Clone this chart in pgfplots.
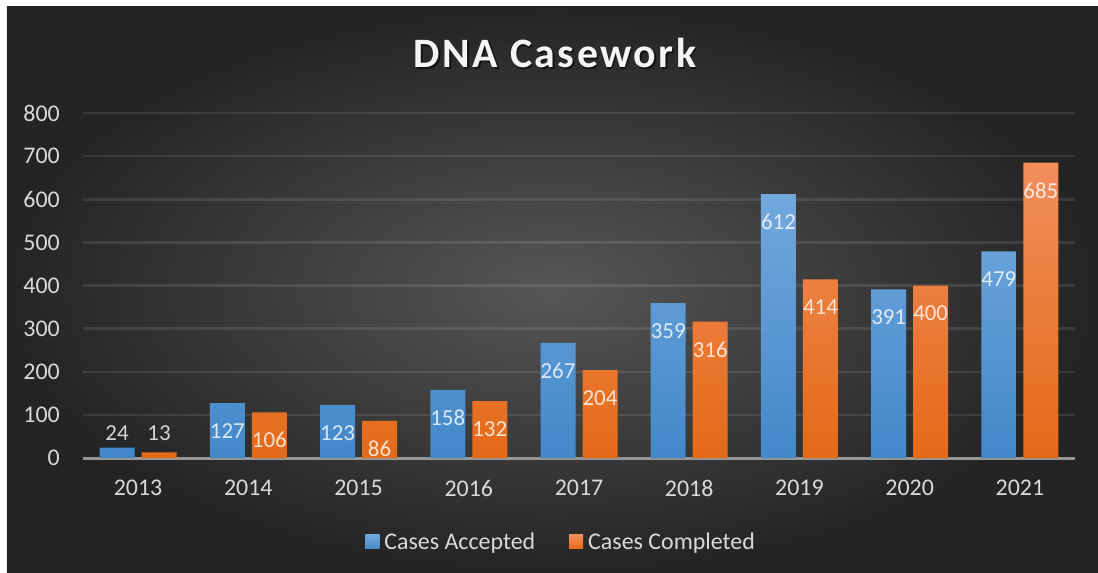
\documentclass[border=0pt]{standalone}
\usepackage{fontspec}
\setmainfont{Carlito}
\newfontfamily\titlefont[LetterSpace=6]{Carlito}
\usepackage{pgfplots}
\pgfplotsset{compat=1.18}
\definecolor{bgin}{RGB}{86,86,86}
\definecolor{bgout}{RGB}{36,36,36}
\definecolor{bluetop}{RGB}{114,168,222}
\definecolor{bluebot}{RGB}{66,136,201}
\definecolor{orgtop}{RGB}{242,142,92}
\definecolor{orgbot}{RGB}{228,106,24}
\definecolor{lbl}{RGB}{217,217,217}
\definecolor{axisc}{RGB}{150,150,150}
\definecolor{titlec}{RGB}{245,245,245}
\pgfplotstableread{
x y
0 24
1 127
2 123
3 158
4 267
5 359
6 612
7 391
8 479
}\accepted
\pgfplotstableread{
x y
0 13
1 106
2 86
3 132
4 204
5 316
6 414
7 400
8 685
}\completed
\begin{document}
\begin{tikzpicture}
\fill[white] (-83bp,-115bp) rectangle (1015bp,458bp);
\shade[inner color=bgin, outer color=bgout] (-76bp,-115bp) rectangle (1015bp,451bp);
\begin{axis}[
  scale only axis, width=992bp, height=345bp,
  ymin=0, ymax=800, ytick={0,100,...,800},
  xmin=-0.5, xmax=8.5, xtick={0,...,8},
  xticklabels={2013,2014,2015,2016,2017,2018,2019,2020,2021},
  ybar=7bp, bar width=35bp,
  axis x line*=bottom, axis y line*=left,
  x axis line style={draw=axisc, line width=3bp, -},
  y axis line style={draw=none},
  major tick length=0pt,
  ymajorgrids, grid style={white, opacity=0.1, line width=2.5bp},
  tick label style={font=\fontsize{24}{28}\selectfont, text=lbl},
  /pgf/number format/assume math mode=true,
  yticklabel style={inner sep=0pt, xshift=-23bp},
  xticklabel style={inner sep=0pt, anchor=north, yshift=-22bp},
  nodes near coords,
  visualization depends on={rawy \as \myy},
  every node near coord/.append style={font=\fontsize{23}{27}\selectfont, text=white, text opacity=0.8, anchor=center, inner sep=0pt, yshift={ifthenelse(\myy<50, 25-0.43125*\myy, -28)}},
  legend style={at={(0.481,-0.243)}, anchor=center, draw=none, fill=none, font=\fontsize{24}{28}\selectfont, text=lbl,
    nodes={inner sep=0pt},
    /tikz/every odd column/.append style={column sep=5bp},
    /tikz/every even column/.append style={column sep=34bp}},
  legend columns=2,
]
\addplot[draw=none, top color=bluetop, bottom color=bluebot,
  legend image code/.code={\fill[bluetop!60!bluebot] (0bp,-7bp) rectangle (14bp,7bp);}] table {\accepted};
\addlegendentry{Cases Accepted}
\addplot[draw=none, top color=orgtop, bottom color=orgbot,
  legend image code/.code={\fill[orgtop!40!orgbot] (0bp,-7bp) rectangle (14bp,7bp);}] table {\completed};
\addlegendentry{Cases Completed}
\end{axis}
\node[anchor=base, font=\titlefont\bfseries\fontsize{42}{48}\selectfont, text=black, opacity=0.55] at (473.5bp,388.5bp) {DNA Casework};
\node[anchor=base, font=\titlefont\bfseries\fontsize{42}{48}\selectfont, text=titlec] at (472bp,390bp) {DNA Casework};
\pgfresetboundingbox
\useasboundingbox (-83bp,-115bp) rectangle (1015bp,458bp);
\end{tikzpicture}
\end{document}
